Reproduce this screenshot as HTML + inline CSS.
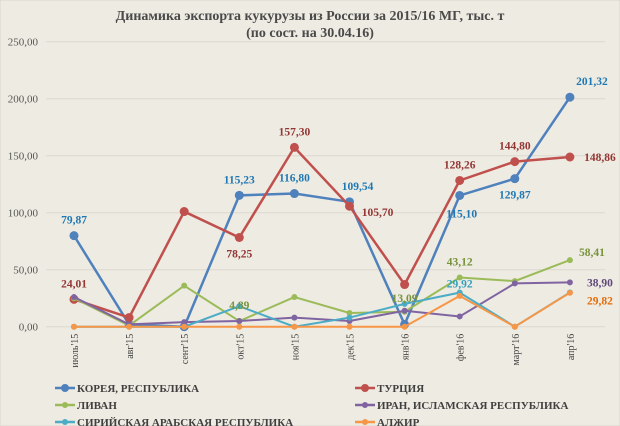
<!DOCTYPE html>
<html><head><meta charset="utf-8"><style>
body{margin:0;background:#eeebe2;}
svg{display:block;font-family:"Liberation Serif",serif;}
</style></head><body>
<svg id="c" width="620" height="426">
<rect x="0" y="0" width="620" height="426" fill="#eeebe2" stroke="#d8d5cc"/>
<text x="310" y="20" text-anchor="middle" font-size="14" font-weight="bold" fill="#4a4a4a">Динамика экспорта кукурузы из России за  2015/16 МГ, тыс. т</text>
<text x="310" y="37" text-anchor="middle" font-size="14" font-weight="bold" fill="#4a4a4a">(по сост.  на 30.04.16)</text>
<g id="grid"></g><g id="series"></g><g id="labels"></g><g id="legend"></g>
</svg>
<script>
const categories=["июль'15","авг'15","сент'15","окт'15","ноя'15","дек'15","янв'16","фев'16","март'16","апр'16"];
const yTicks=[0,50,100,150,200,250];
const seriesNames=["КОРЕЯ, РЕСПУБЛИКА","ТУРЦИЯ","ЛИВАН","ИРАН, ИСЛАМСКАЯ РЕСПУБЛИКА","СИРИЙСКАЯ АРАБСКАЯ РЕСПУБЛИКА","АЛЖИР"];
const korea=[79.87,2,0,115.23,116.8,109.54,2,115.10,129.87,201.32];
const turkey=[24.01,8,101,78.25,157.3,105.7,37,128.26,144.8,148.86];
const lebanon=[25,1,36,4.89,26,12,13.09,43.12,40,58.41];
const iran=[26,2,4,5,8,5,14,9,38,38.9];
const syria=[0,0,0,18,0,8,20,29.92,0,30];
const algeria=[0,0,0,0,0,0,0,27,0,29.82];
const colors=["#4f81bd","#c0504d","#9bbb59","#8064a2","#4bacc6","#f79646"];
const labelColors=["#1f78b4","#943634","#77933c","#5f497a","#31a0c0","#e46c0a"];
const allSeries=[korea,turkey,lebanon,iran,syria,algeria];
// labels: [series, index, dx, dy]
const labelPts=[[0,0,0,-12],[0,3,0,-12],[0,4,0,-12],[0,5,8,-12],[0,7,2,22],[0,8,0,20],[0,9,22,-12],
[1,0,0,-12],[1,3,0,20],[1,4,0,-12],[1,5,28,10],[1,7,0,-12],[1,8,0,-12],[1,9,30,4],
[2,3,0,-12],[2,6,0,-10],[2,7,0,-12],[2,9,22,-4],[4,7,0,-5],[3,9,30,4],[5,9,30,12]];
const NS="http://www.w3.org/2000/svg";
const x0=74,dx=55.1,yb=326.7,pxu=1.14;
const X=i=>x0+i*dx, Y=v=>yb-v*pxu;
function mk(t,a,p,txt){const e=document.createElementNS(NS,t);for(const k in a)e.setAttribute(k,a[k]);if(txt!==undefined)e.textContent=txt;p.appendChild(e);return e;}
const g=document.getElementById('grid');
yTicks.forEach(v=>{const l=mk('line',{x1:46,x2:605,y1:Y(v),y2:Y(v),stroke:'#dcd9cf'},g);

const t=mk('text',{x:38,y:Y(v)+4,'text-anchor':'end','font-size':11,fill:'#555'},g,v.toFixed(2).replace('.',','));
});
categories.forEach((c,i)=>{const t=mk('text',{x:0,y:0,'text-anchor':'end','font-size':10,fill:'#444',transform:`translate(${X(i)+4},${yb+7}) rotate(-90)`},g,c);
});
const s=document.getElementById('series');
allSeries.forEach((d,k)=>{const gr=mk('g',{},s);
const pl=mk('polyline',{points:d.map((v,i)=>X(i)+','+Y(v)).join(' '),fill:'none',stroke:colors[k],'stroke-width':k<2?2.5:2},gr);

d.forEach((v,i)=>{const c=mk('circle',{cx:X(i),cy:Y(v),r:k<2?4.5:3,fill:colors[k]},gr);
});});
const lb=document.getElementById('labels');
labelPts.forEach(([k,i,ox,oy])=>{const v=allSeries[k][i];
const t=mk('text',{x:X(i)+ox,y:Y(v)+oy,'text-anchor':'middle','font-size':11.5,'font-weight':'bold',fill:labelColors[k]},lb,v.toFixed(2).replace('.',','));
});
const lg=document.getElementById('legend');
seriesNames.forEach((n,k)=>{const lx=k%2?355:55,ly=388+Math.floor(k/2)*17;
const e=mk('g',{},lg);
mk('line',{x1:lx,x2:lx+20,y1:ly,y2:ly,stroke:colors[k],'stroke-width':2.5},e);
mk('circle',{cx:lx+10,cy:ly,r:k<2?4:3,fill:colors[k]},e);
mk('text',{x:lx+22,y:ly+4,'font-size':11,'font-weight':'bold',fill:'#404040'},e,n);});
</script>
</body></html>
